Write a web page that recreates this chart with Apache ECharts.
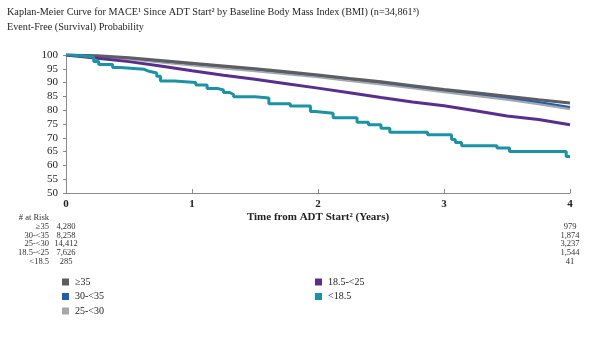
<!DOCTYPE html>
<html>
<head>
<meta charset="utf-8">
<script src="https://cdn.jsdelivr.net/npm/echarts@6/dist/echarts.min.js"></script>
<style>
  html, body { margin: 0; padding: 0; background: #fff; }
  #chart { width: 600px; height: 338px; }
</style>
</head>
<body>
<div id="chart"></div>
<script>
// Kaplan-Meier event-free probability (%) by baseline BMI group
const groups = ['≥35', '30-<35', '25-<30', '18.5-<25', '<18.5'];
const groupColors = ['#5e5e60', '#1c5fb3', '#a7a7aa', '#5a2e8f', '#1b93a7'];

// Follow-up time grid (years) for the large groups
const timePoints = [0, 0.25, 0.5, 0.75, 1, 1.25, 1.5, 1.75, 2, 2.25, 2.5, 2.75, 3, 3.25, 3.5, 3.75, 4];
const bmi35 =    [100, 99.7, 99.0, 98.0, 97.0, 96.0, 95.0, 93.9, 92.8, 91.5, 90.3, 88.9, 87.5, 86.3, 85.1, 83.8, 82.6];
const bmi30_35 = [100, 99.6, 98.9, 97.8, 96.8, 95.8, 94.8, 93.7, 92.6, 91.3, 90.0, 88.6, 87.2, 86.0, 84.6, 83.0, 81.2];
const bmi25_30 = [100, 99.5, 98.6, 97.5, 96.4, 95.3, 94.3, 93.2, 92.1, 90.8, 89.5, 88.1, 86.7, 85.3, 84.0, 82.3, 80.5];
const bmi185_25 = [100, 98.8, 97.6, 96.0, 94.3, 92.7, 91.2, 89.6, 88.0, 86.3, 84.6, 83.0, 81.6, 79.8, 77.9, 76.6, 74.7];

// <18.5 group: step times (years) and survival after each event
const underTimes = [0, 0.04, 0.22, 0.26, 0.37, 0.43, 0.62, 0.66, 0.72, 0.75, 0.86, 1.03, 1.12, 1.2, 1.25, 1.3, 1.33, 1.5, 1.61, 1.78, 1.94, 1.98, 2.12, 2.31, 2.4, 2.5, 2.57, 2.87, 3.06, 3.09, 3.14, 3.42, 3.52, 3.97, 4.0];
const underVals  = [100, 99.3, 97.6, 96.6, 95.5, 94.8, 94.1, 93.5, 92.3, 90.6, 90.0, 89.1, 87.9, 87.3, 86.4, 85.7, 84.9, 84.4, 82.3, 81.5, 79.5, 78.9, 77.3, 75.6, 74.7, 73.5, 72.0, 71.1, 69.4, 68.3, 67.1, 66.3, 65.0, 63.2, 63.2];

// Number at risk at baseline and at 4 years
const riskAtStart = ['4,280', '8,258', '14,412', '7,626', '285'];
const riskAtEnd   = ['979', '1,874', '3,237', '1,544', '41'];

const yTicks = { min: 50, max: 100, step: 5 };
const xTicks = { min: 0, max: 4, step: 1 };

const serif = '"Liberation Serif", "DejaVu Serif", serif';

function pairs(xs, ys) { return xs.map((x, i) => [x, ys[i]]); }

const chart = echarts.init(document.getElementById('chart'), null, { renderer: 'canvas' });

const lineSeries = (name, data, color, width, extra) => Object.assign({
  name, type: 'line', data, showSymbol: false, symbol: 'none',
  lineStyle: { color, width }, itemStyle: { color },
  emphasis: { disabled: true }, animation: false
}, extra || {});

const legendBase = {
  orient: 'vertical', icon: 'rect', itemWidth: 7, itemHeight: 7, itemGap: 4.5,
  padding: 0, selectedMode: false,
  textStyle: { fontFamily: serif, fontSize: 10, color: '#222', padding: [0, 0, 0, 1] }
};

chart.setOption({
  animation: false,
  title: {
    text: 'Kaplan-Meier Curve for MACE¹ Since ADT Start² by Baseline Body Mass Index (BMI) (n=34,861³)\nEvent-Free (Survival) Probability',
    left: 7, top: 5, padding: 0,
    textStyle: { fontFamily: serif, fontSize: 10.2, fontWeight: 'normal', color: '#1e1e1e', lineHeight: 15 }
  },
  grid: { left: 66, right: 30, top: 55, bottom: 145, containLabel: false },
  xAxis: {
    type: 'value', min: xTicks.min, max: xTicks.max, interval: xTicks.step,
    name: 'Time from ADT Start² (Years)', nameLocation: 'middle', nameGap: 19,
    nameTextStyle: { fontFamily: serif, fontSize: 11, fontWeight: 'bold', color: '#222' },
    axisLine: { lineStyle: { color: '#8a8a8a', width: 1 } },
    axisTick: { show: true, inside: true, length: 4, lineStyle: { color: '#8a8a8a' } },
    axisLabel: { fontFamily: serif, fontSize: 11, fontWeight: 'bold', color: '#222', margin: 6 },
    splitLine: { show: false }
  },
  yAxis: {
    type: 'value', min: yTicks.min, max: yTicks.max, interval: yTicks.step,
    axisLine: { show: true, lineStyle: { color: '#8a8a8a', width: 1 } },
    axisTick: { show: true, length: 3, lineStyle: { color: '#8a8a8a' } },
    axisLabel: { fontFamily: serif, fontSize: 11, color: '#222', margin: 8 },
    splitLine: { show: false }
  },
  legend: [
    Object.assign({ data: groups.slice(0, 3), left: 62, top: 277 }, legendBase),
    Object.assign({ data: groups.slice(3), left: 315, top: 277 }, legendBase)
  ],
  series: [
    lineSeries(groups[2], pairs(timePoints, bmi25_30), groupColors[2], 3),
    lineSeries(groups[1], pairs(timePoints, bmi30_35), groupColors[1], 2),
    lineSeries(groups[0], pairs(timePoints, bmi35), groupColors[0], 3),
    lineSeries(groups[3], pairs(timePoints, bmi185_25), groupColors[3], 3),
    lineSeries(groups[4], pairs(underTimes, underVals), groupColors[4], 3, { step: 'end' })
  ]
});

// Number-at-risk table placed under the time axis at 0 and 4 years
const x0 = chart.convertToPixel({ xAxisIndex: 0 }, xTicks.min);
const x4 = chart.convertToPixel({ xAxisIndex: 0 }, xTicks.max);
const rowTop = 226.5, rowStep = 8.8;
const riskFont = { fontFamily: serif, fontSize: 8.5, fill: '#333' };
const graphics = [{
  type: 'text', x: 49, y: 217.5,
  style: Object.assign({ text: '# at Risk', textAlign: 'right', textVerticalAlign: 'middle' }, riskFont)
}];
groups.forEach((g, i) => {
  const y = rowTop + i * rowStep;
  graphics.push({ type: 'text', x: 49, y, style: Object.assign({ text: g, textAlign: 'right', textVerticalAlign: 'middle' }, riskFont) });
  graphics.push({ type: 'text', x: x0, y, style: Object.assign({ text: riskAtStart[i], textAlign: 'center', textVerticalAlign: 'middle' }, riskFont) });
  graphics.push({ type: 'text', x: x4, y, style: Object.assign({ text: riskAtEnd[i], textAlign: 'center', textVerticalAlign: 'middle' }, riskFont) });
});
chart.setOption({ graphic: graphics });
</script>
</body>
</html>
